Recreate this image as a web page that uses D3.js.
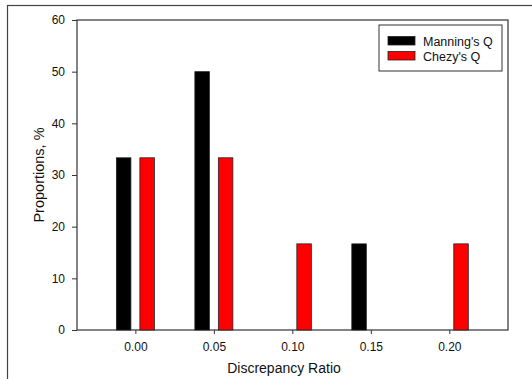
<!DOCTYPE html>
<html>
<head>
<meta charset="utf-8">
<script src="https://cdn.jsdelivr.net/npm/d3@7/dist/d3.min.js"></script>
<style>
  html, body { margin: 0; padding: 0; background: #fff; }
  svg { display: block; font-family: Arial, 'Liberation Sans', sans-serif; }
</style>
</head>
<body>
<div id="chart"></div>
<script>
  var ratios   = [0.00, 0.05, 0.10, 0.15, 0.20];
  var manning  = [33.33, 50, 0, 16.67, 0];
  var chezy    = [33.33, 33.33, 16.67, 0, 16.67];
  var yTicks   = [0, 10, 20, 30, 40, 50, 60];
  var seriesNames  = ["Manning's Q", "Chezy's Q"];
  var seriesColors = ['#000000', '#ff0000'];

  var W = 532, H = 379;
  var mg = { top: 20, right: 24, bottom: 49, left: 77 };
  var w = W - mg.left - mg.right;
  var h = H - mg.top - mg.bottom;

  var svg = d3.select('#chart').append('svg')
    .attr('width', W).attr('height', H);

  // outer frame (only top/left visible in the crop)
  svg.append('rect')
    .attr('x', 7.5).attr('y', 5.5)
    .attr('width', W + 10).attr('height', H + 10)
    .attr('fill', 'none').attr('stroke', '#444').attr('stroke-width', 1.2);

  var g = svg.append('g')
    .attr('transform', 'translate(' + mg.left + ',' + mg.top + ')');

  var x = d3.scaleLinear().domain([-0.0372, 0.2374]).range([0, w]);
  var y = d3.scaleLinear().domain([0, 60]).range([h, 0]);

  var barW = 14.5, gap = 9;
  var offs = [-(gap / 2 + barW), gap / 2];

  // plot frame
  g.append('rect')
    .attr('x', 0).attr('y', 0).attr('width', w).attr('height', h)
    .attr('fill', 'none').attr('stroke', '#333').attr('stroke-width', 1.2);

  [manning, chezy].forEach(function (vals, si) {
    g.selectAll('rect.s' + si).data(vals).join('rect')
      .attr('class', 's' + si)
      .attr('x', function (d, i) { return x(ratios[i]) + offs[si]; })
      .attr('y', function (d) { return y(d); })
      .attr('width', barW)
      .attr('height', function (d) { return h - y(d); })
      .attr('fill', seriesColors[si])
      .attr('stroke', function (d) { return d > 0 ? '#222' : 'none'; })
      .attr('stroke-width', 0.8);
  });

  // X axis
  g.append('g')
    .attr('transform', 'translate(0,' + h + ')')
    .call(d3.axisBottom(x).tickValues(ratios).tickFormat(d3.format('.2f')).tickSize(4).tickPadding(8))
    .call(function (ax) {
      ax.select('.domain').remove();
      ax.selectAll('.tick line').attr('stroke', '#333');
      ax.selectAll('text').attr('font-size', 12).attr('fill', '#111')
        .attr('font-family', 'Arial, Liberation Sans, sans-serif');
    });

  // Y axis
  g.append('g')
    .call(d3.axisLeft(y).tickValues(yTicks).tickSize(5).tickPadding(7))
    .call(function (ax) {
      ax.select('.domain').remove();
      ax.selectAll('.tick line').attr('stroke', '#333');
      ax.selectAll('text').attr('font-size', 12).attr('fill', '#111')
        .attr('font-family', 'Arial, Liberation Sans, sans-serif');
    });

  // axis titles
  svg.append('text')
    .attr('x', 284).attr('y', 373)
    .attr('text-anchor', 'middle').attr('font-size', 14).attr('fill', '#111')
    .text('Discrepancy Ratio');

  svg.append('text')
    .attr('transform', 'translate(44,' + (mg.top + h / 2) + ') rotate(-90)')
    .attr('text-anchor', 'middle').attr('font-size', 14.5).attr('fill', '#111')
    .text('Proportions, %');

  // legend
  var lg = svg.append('g').attr('transform', 'translate(379,25)');
  lg.append('rect')
    .attr('width', 123).attr('height', 46)
    .attr('fill', '#fff').attr('stroke', '#333').attr('stroke-width', 1);
  seriesNames.forEach(function (name, i) {
    lg.append('rect')
      .attr('x', 9).attr('y', 11.5 + i * 15)
      .attr('width', 27).attr('height', 8.5)
      .attr('fill', seriesColors[i]).attr('stroke', '#222').attr('stroke-width', 0.8);
    lg.append('text')
      .attr('x', 44).attr('y', 20.5 + i * 15)
      .attr('font-size', 12.5).attr('fill', '#111')
      .text(name);
  });
</script>
</body>
</html>
